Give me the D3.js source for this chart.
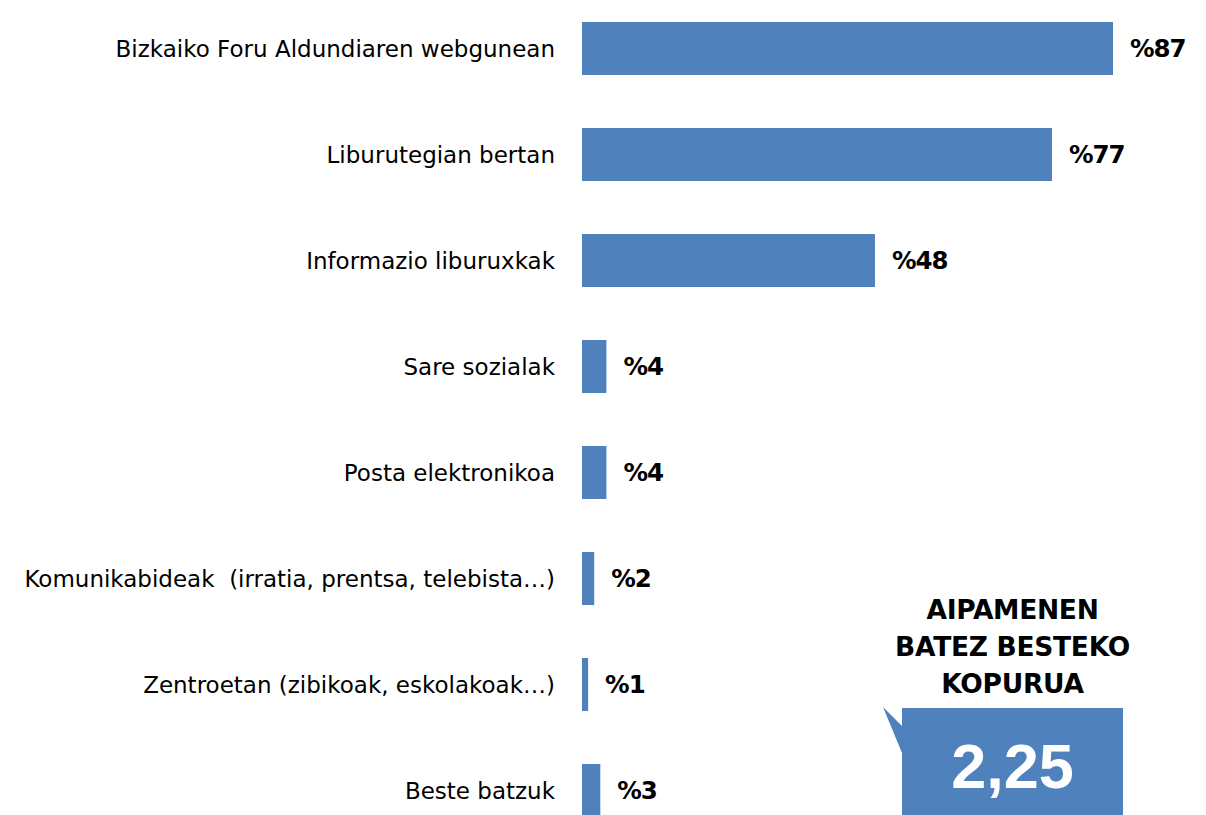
<!DOCTYPE html>
<html>
<head>
<meta charset="utf-8">
<script src="https://cdn.jsdelivr.net/npm/d3@7"></script>
<style>
  body { margin: 0; background: #fff; }
  svg { display: block; }
  .lbl { font-family: "DejaVu Sans", sans-serif; font-size: 23px; fill: #000; }
  .val { font-family: "DejaVu Sans", sans-serif; font-weight: bold; font-size: 24.5px; letter-spacing: -1px; fill: #000; }
  .callout { font-family: "DejaVu Sans", sans-serif; font-weight: bold; font-size: 26.5px; letter-spacing: -0.3px; fill: #000; }
  .big { font-family: "Liberation Sans", sans-serif; font-weight: bold; font-size: 63px; fill: #fff; }
</style>
</head>
<body>
<div class="chart"></div>
<script>
var categories = [
  'Bizkaiko Foru Aldundiaren webgunean',
  'Liburutegian bertan',
  'Informazio liburuxkak',
  'Sare sozialak',
  'Posta elektronikoa',
  'Komunikabideak  (irratia, prentsa, telebista…)',
  'Zentroetan (zibikoak, eskolakoak…)',
  'Beste batzuk'
];
var values = [87, 77, 48, 4, 4, 2, 1, 3];
var callout_lines = ['AIPAMENEN', 'BATEZ BESTEKO', 'KOPURUA'];
var callout_value = '2,25';

var BAR_COLOR = '#4f81bd';
var width = 1206,
    height = 815;

var svg = d3.select('.chart').append('svg')
    .attr('width', width)
    .attr('height', height);

var x = d3.scaleLinear()
    .domain([0, 87])
    .range([582, 1113]);

var y = d3.scaleBand()
    .domain(categories)
    .range([-4.5, 843.5])
    .paddingInner(0.5)
    .paddingOuter(0.25);

var rows = svg.selectAll('g.row')
  .data(categories)
  .enter().append('g')
    .attr('class', 'row');

rows.append('rect')
    .attr('x', x(0))
    .attr('y', function(d) { return y(d); })
    .attr('width', function(d, i) { return x(values[i]) - x(0); })
    .attr('height', y.bandwidth())
    .style('fill', BAR_COLOR);

rows.append('text')
    .attr('class', 'lbl')
    .attr('x', x(0) - 27)
    .attr('y', function(d) { return y(d) + y.bandwidth() / 2; })
    .attr('dy', '0.36em')
    .attr('text-anchor', 'end')
    .style('white-space', 'pre')
    .text(function(d) { return d; });

rows.append('text')
    .attr('class', 'val')
    .attr('x', function(d, i) { return x(values[i]) + 17; })
    .attr('y', function(d) { return y(d) + y.bandwidth() / 2; })
    .attr('dy', '0.36em')
    .text(function(d, i) { return '%' + values[i]; });

// callout box with tail
var box = {x0: 902, x1: 1123, y0: 708, y1: 816};
svg.append('path')
    .attr('d', 'M' + box.x0 + ',' + box.y0 +
               'H' + box.x1 + 'V' + box.y1 + 'H' + box.x0 +
               'V753L883,707L' + box.x0 + ',726Z')
    .style('fill', BAR_COLOR);

var cx = (box.x0 + box.x1) / 2;
svg.selectAll('text.callout')
  .data(callout_lines)
  .enter().append('text')
    .attr('class', 'callout')
    .attr('x', cx)
    .attr('y', function(d, i) { return 619 + i * 37; })
    .attr('text-anchor', 'middle')
    .text(function(d) { return d; });

svg.append('text')
    .attr('class', 'big')
    .attr('x', cx)
    .attr('y', 788)
    .attr('text-anchor', 'middle')
    .text(callout_value);
</script>
</body>
</html>
